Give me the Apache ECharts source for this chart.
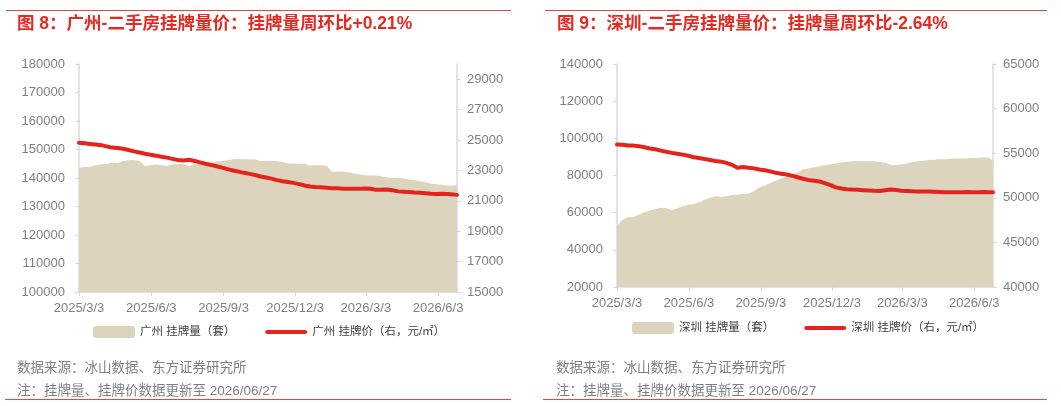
<!DOCTYPE html>
<html>
<head>
<meta charset="utf-8">
<script src="https://cdn.jsdelivr.net/npm/echarts@6/dist/echarts.min.js"></script>
<style>
  html, body { margin: 0; padding: 0; background: #fff; }
  #chart { width: 1061px; height: 406px; }
</style>
</head>
<body>
<div id="chart"></div>
<script>
// weekly samples, last point is the update day
const dates = [
  '2025-03-03', '2025-03-10', '2025-03-17', '2025-03-24', '2025-03-31', '2025-04-07', '2025-04-14',
  '2025-04-21', '2025-04-28', '2025-05-05', '2025-05-12', '2025-05-19', '2025-05-26', '2025-06-02',
  '2025-06-09', '2025-06-16', '2025-06-23', '2025-06-30', '2025-07-07', '2025-07-14', '2025-07-21',
  '2025-07-28', '2025-08-04', '2025-08-11', '2025-08-18', '2025-08-25', '2025-09-01', '2025-09-08',
  '2025-09-15', '2025-09-22', '2025-09-29', '2025-10-06', '2025-10-13', '2025-10-20', '2025-10-27',
  '2025-11-03', '2025-11-10', '2025-11-17', '2025-11-24', '2025-12-01', '2025-12-08', '2025-12-15',
  '2025-12-22', '2025-12-29', '2026-01-05', '2026-01-12', '2026-01-19', '2026-01-26', '2026-02-02',
  '2026-02-09', '2026-02-16', '2026-02-23', '2026-03-02', '2026-03-09', '2026-03-16', '2026-03-23',
  '2026-03-30', '2026-04-06', '2026-04-13', '2026-04-20', '2026-04-27', '2026-05-04', '2026-05-11',
  '2026-05-18', '2026-05-25', '2026-06-01', '2026-06-08', '2026-06-15', '2026-06-22', '2026-06-27'
]

// 广州 挂牌量（套）
const gzVolume = [
  143500, 143900, 143900, 144600, 144800, 144900, 145400, 145200, 146000, 146200,
  146300, 146000, 144200, 144600, 144700, 144500, 144300, 144800, 144900, 144900,
  144200, 144800, 145000, 145200, 145300, 145800, 146000, 146200, 146600, 146700,
  146600, 146500, 146600, 146000, 146000, 146000, 146000, 145600, 145100, 145100,
  145000, 145000, 144300, 144600, 144500, 144300, 142200, 142300, 142300, 142000,
  141600, 141300, 141000, 140900, 140900, 140500, 140200, 140100, 140000, 139800,
  139500, 139300, 138900, 138500, 138000, 137800, 137600, 137400, 137300, 137600
]

// 广州 挂牌价（元/㎡）
const gzPrice = [
  24820, 24780, 24740, 24700, 24660, 24580, 24500, 24470, 24420, 24340,
  24250, 24180, 24100, 24030, 23970, 23900, 23840, 23760, 23680, 23650,
  23700, 23620, 23530, 23440, 23360, 23270, 23180, 23080, 22990, 22920,
  22840, 22770, 22700, 22600, 22530, 22460, 22360, 22290, 22240, 22180,
  22100, 22010, 21940, 21910, 21890, 21860, 21830, 21820, 21800, 21790,
  21790, 21800, 21805, 21790, 21720, 21730, 21740, 21690, 21620, 21600,
  21580, 21550, 21530, 21500, 21460, 21440, 21470, 21450, 21420, 21390
]

// 深圳 挂牌量（套）
const szVolume = [
  53000, 56100, 57600, 57600, 59000, 60200, 61200, 61800, 62600, 62500,
  61300, 62400, 63400, 64300, 64600, 65600, 67000, 68000, 68900, 68600,
  68800, 69500, 69700, 70000, 70300, 71500, 73500, 74600, 75900, 77200,
  78500, 79600, 80600, 81800, 83200, 83900, 84500, 85000, 85500, 86000,
  86400, 87000, 87400, 87700, 87800, 87700, 87700, 87700, 87300, 86900,
  85800, 85700, 86100, 86500, 87200, 87700, 88000, 88300, 88500, 88700,
  88800, 89000, 89100, 89200, 89300, 89400, 89600, 89700, 89600, 87800
]

// 深圳 挂牌价（元/㎡）
const szPrice = [
  55980, 55950, 55870, 55850, 55790, 55660, 55520, 55440, 55290, 55160,
  55040, 54930, 54840, 54720, 54550, 54460, 54360, 54230, 54130, 54050,
  53910, 53700, 53380, 53440, 53380, 53300, 53180, 53080, 52960, 52800,
  52700, 52610, 52480, 52300, 52140, 52000, 51920, 51830, 51650, 51420,
  51170, 51050, 50970, 50920, 50890, 50860, 50820, 50780, 50760, 50850,
  50930, 50880, 50800, 50770, 50730, 50710, 50720, 50710, 50680, 50650,
  50610, 50610, 50620, 50630, 50640, 50620, 50630, 50640, 50630, 50620
]

const xLabels = ['2025/3/3', '2025/6/3', '2025/9/3', '2025/12/3', '2026/3/3', '2026/6/3']
const startDate = '2025/3/3'
const endDate = '2026/6/27'

const FONT = 'Liberation Sans, Arial, Noto Sans CJK SC, sans-serif'
const AXIS_GRAY = '#d9d9d9'
const LABEL_GRAY = '#7f7f7f'
const RED = '#e3231c'
const TITLE_RED = '#e62a22'
const SAND = '#ddd4bd'
const lineIcon = 'path://M2,0H40A2,2,0,0,1,40,4H2A2,2,0,0,1,2,0Z'
const DAY = 86400000

const chart = echarts.init(document.getElementById('chart'))

// x is counted in days from the first date
function dayOf(s) {
  const t = echarts.time.parse(s.replace(/\//g, '-'))
  return Math.round((t - echarts.time.parse(startDate.replace(/\//g, '-'))) / DAY)
}

function pairs(values) {
  return dates.map((d, i) => [dayOf(d), values[i]])
}

function xAxis(gridIndex) {
  const ticks = xLabels.map(dayOf)
  return {
    type: 'value',
    gridIndex: gridIndex,
    min: 0,
    max: dayOf(endDate),
    splitLine: { show: false },
    axisLine: { lineStyle: { color: AXIS_GRAY, width: 1.5 } },
    axisTick: { show: true, length: 4, lineStyle: { color: AXIS_GRAY }, customValues: ticks },
    axisLabel: {
      customValues: ticks,
      margin: 10,
      color: LABEL_GRAY,
      fontSize: 13,
      fontFamily: FONT,
      formatter(v, i) {
        const k = ticks.indexOf(Number(v))
        return xLabels[k >= 0 ? k : i]
      }
    }
  }
}

function yAxis(gridIndex, position, min, max, interval, margin, showMax) {
  return {
    type: 'value',
    gridIndex: gridIndex,
    position: position,
    min: min,
    max: max,
    interval: interval,
    splitLine: { show: false },
    axisLine: { show: true, lineStyle: { color: AXIS_GRAY, width: 1.5 } },
    axisTick: { show: true, length: 4, lineStyle: { color: AXIS_GRAY } },
    axisLabel: {
      margin: margin,
      color: LABEL_GRAY,
      fontSize: 13,
      fontFamily: FONT,
      showMaxLabel: showMax,
      formatter: v => String(v)
    }
  }
}

function volumeSeries(name, xi, yi, values) {
  return {
    name: name,
    type: 'line',
    xAxisIndex: xi,
    yAxisIndex: yi,
    symbol: 'none',
    color: SAND,
    lineStyle: { width: 0 },
    areaStyle: { color: SAND, opacity: 1 },
    data: pairs(values)
  }
}

function priceSeries(name, xi, yi, values) {
  return {
    name: name,
    type: 'line',
    xAxisIndex: xi,
    yAxisIndex: yi,
    symbol: 'none',
    color: RED,
    lineStyle: { width: 4, color: RED, cap: 'round', join: 'round' },
    z: 3,
    data: pairs(values)
  }
}

function legend(left, top, names) {
  return {
    left: left,
    top: top,
    padding: 0,
    itemWidth: 42,
    itemHeight: 12,
    itemGap: 30,
    textStyle: { color: '#404040', fontSize: 11.5, fontFamily: FONT },
    data: [
      { name: names[0], icon: 'roundRect' },
      { name: names[1], icon: lineIcon }
    ]
  }
}

function note(left, top, text) {
  return {
    type: 'text',
    left: left,
    top: top,
    style: { text: text, fill: LABEL_GRAY, fontSize: 13.5, fontFamily: FONT }
  }
}

function rule(x1, x2, y) {
  return {
    type: 'line',
    shape: { x1: x1, y1: y, x2: x2, y2: y },
    style: { stroke: '#e8463e', lineWidth: 1 }
  }
}

function title(left, text) {
  return {
    text: text,
    left: left,
    top: 15,
    padding: 0,
    textStyle: { color: TITLE_RED, fontSize: 17.5, fontWeight: 'bold', fontFamily: FONT }
  }
}

chart.setOption({
  animation: false,
  title: [
    title(17, '图 8：广州-二手房挂牌量价：挂牌量周环比+0.21%'),
    title(557, '图 9：深圳-二手房挂牌量价：挂牌量周环比-2.64%')
  ],
  grid: [
    { left: 79, right: 604, top: 64, bottom: 114 },
    { left: 617, right: 68, top: 64, bottom: 119 }
  ],
  xAxis: [xAxis(0), xAxis(1)],
  yAxis: [
    yAxis(0, 'left', 100000, 180000, 10000, 14, true),
    yAxis(0, 'right', 15000, 30000, 2000, 10, false),
    yAxis(1, 'left', 20000, 140000, 20000, 14, true),
    yAxis(1, 'right', 40000, 65000, 5000, 10, true)
  ],
  legend: [
    legend(93, 326, ['广州 挂牌量（套）', '广州 挂牌价（右，元/㎡）']),
    legend(632, 322, ['深圳 挂牌量（套）', '深圳 挂牌价（右，元/㎡）'])
  ],
  series: [
    volumeSeries('广州 挂牌量（套）', 0, 0, gzVolume),
    priceSeries('广州 挂牌价（右，元/㎡）', 0, 1, gzPrice),
    volumeSeries('深圳 挂牌量（套）', 1, 2, szVolume),
    priceSeries('深圳 挂牌价（右，元/㎡）', 1, 3, szPrice)
  ],
  graphic: [
    rule(6, 511, 10.5),
    rule(545, 1047, 10.5),
    rule(5, 511, 399.5),
    rule(543, 1047, 399.5),
    note(17, 362, '数据来源：冰山数据、东方证券研究所'),
    note(17, 385, '注：挂牌量、挂牌价数据更新至 2026/06/27'),
    note(556, 362, '数据来源：冰山数据、东方证券研究所'),
    note(556, 385, '注：挂牌量、挂牌价数据更新至 2026/06/27')
  ]
})
</script>
</body>
</html>
